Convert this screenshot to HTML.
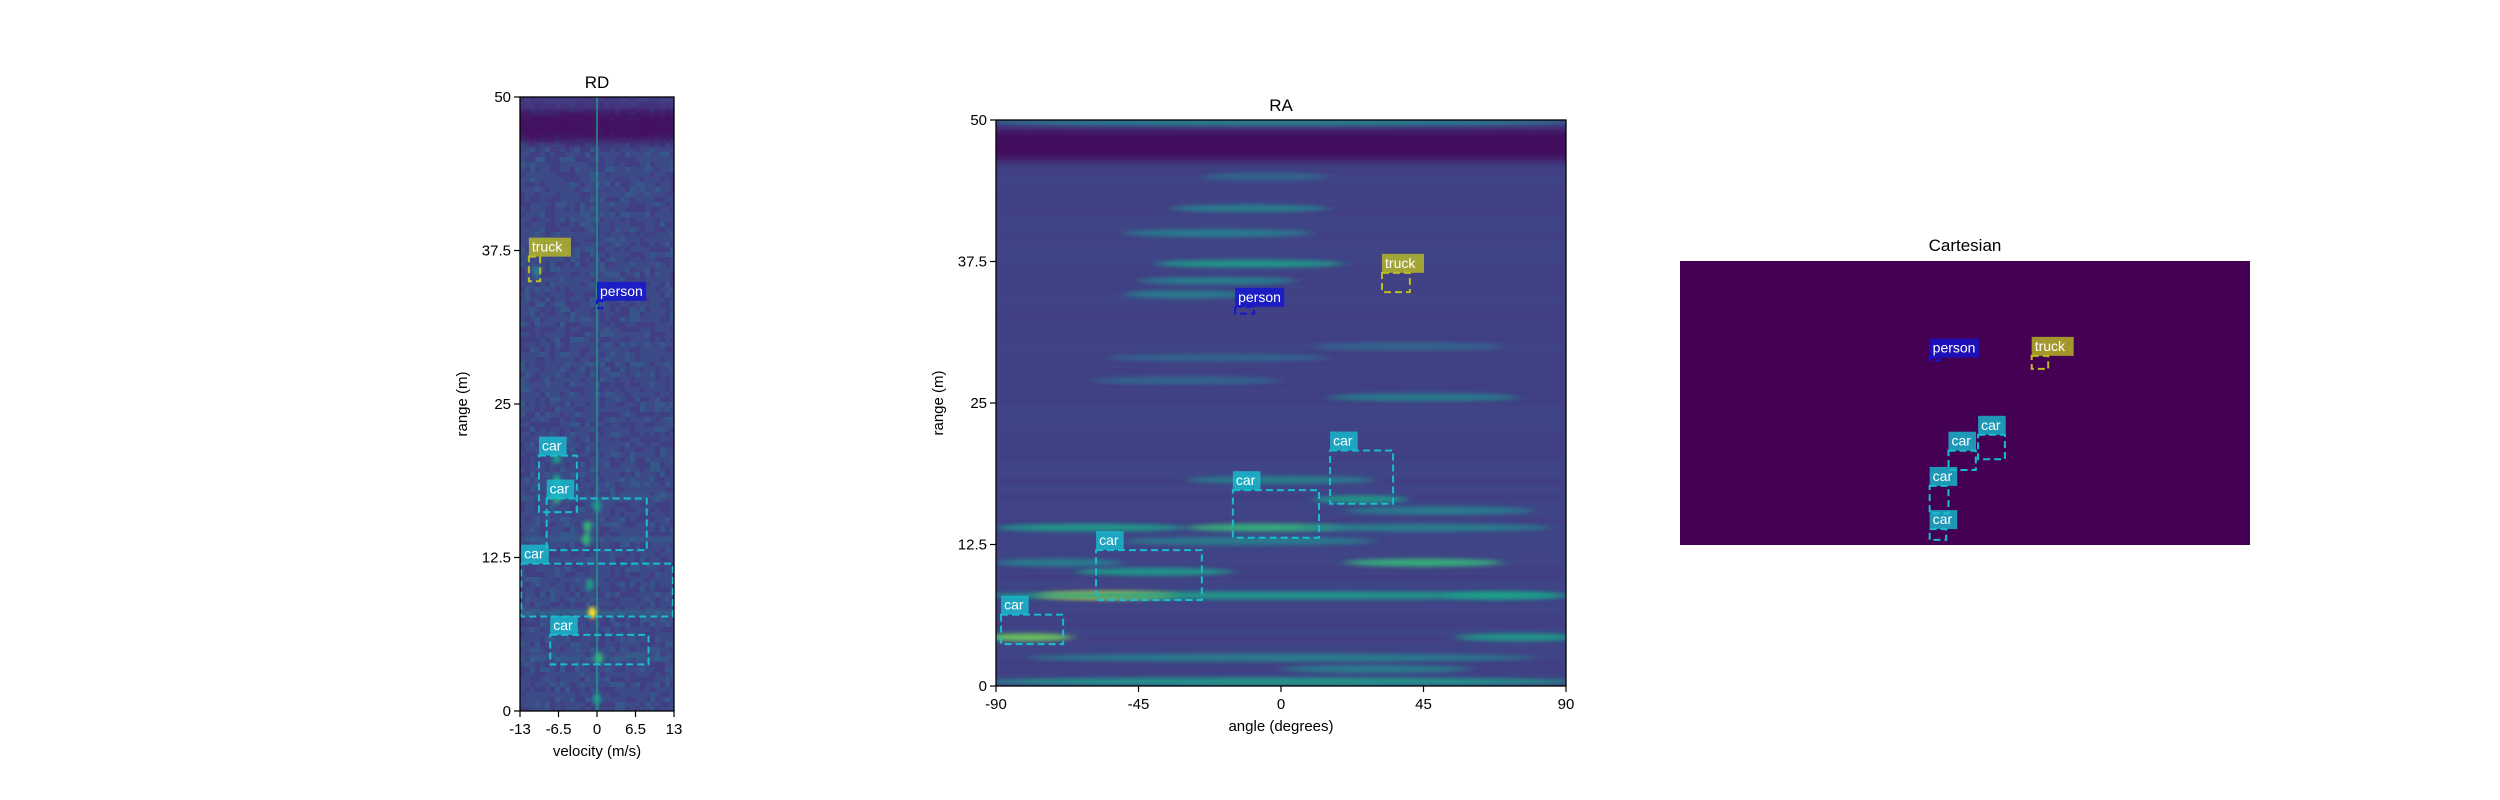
<!DOCTYPE html>
<html><head><meta charset="utf-8">
<style>
html,body{margin:0;padding:0;background:#fff;}
svg{display:block;font-family:"Liberation Sans","DejaVu Sans",sans-serif;}
</style></head>
<body>
<svg id="fig" width="2500" height="800" viewBox="0 0 2500 800" xmlns="http://www.w3.org/2000/svg">
<defs>
<filter id="blurS" x="-50%" y="-200%" width="200%" height="500%"><feGaussianBlur stdDeviation="6 2"/></filter>
<filter id="blurR" x="-50%" y="-50%" width="200%" height="200%"><feGaussianBlur stdDeviation="2"/></filter>
<filter id="blurB" x="-20%" y="-50%" width="140%" height="200%"><feGaussianBlur stdDeviation="0 5"/></filter>
<clipPath id="clipRD"><rect x="520" y="97" width="154" height="614"/></clipPath>
<clipPath id="clipRA"><rect x="996" y="120" width="570" height="566"/></clipPath>
</defs>
<g id="root"></g>
</svg>
<script>
// ---------- data ----------
const rdVelTicks = [-13, -6.5, 0, 6.5, 13];
const rdRangeTicks = [0, 12.5, 25, 37.5, 50];
const raAngleTicks = [-90, -45, 0, 45, 90];
const raRangeTicks = [0, 12.5, 25, 37.5, 50];
const rdTickLabels = ["-13", "-6.5", "0", "6.5", "13"];
const raTickLabels = ["-90", "-45", "0", "45", "90"];
const rangeTickLabels = ["0", "12.5", "25", "37.5", "50"];

// RD boxes: [class, vMin, vMax, rMin, rMax]
const rdBoxes = [
  ["truck", -11.5, -9.6, 35.0, 37.0],
  ["person", 0.0, 0.9, 32.8, 33.4],
  ["car", -9.8, -3.4, 16.2, 20.8],
  ["car", -8.5, 8.4, 13.1, 17.3],
  ["car", -12.8, 12.8, 7.7, 12.0],
  ["car", -7.9, 8.7, 3.8, 6.2]
];
// RA boxes: [class, aMin, aMax, rMin, rMax]
const raBoxes = [
  ["truck", 31.9, 40.7, 34.8, 36.5],
  ["person", -14.5, -8.5, 32.9, 33.5],
  ["car", 15.5, 35.4, 16.1, 20.8],
  ["car", -15.2, 12.0, 13.1, 17.3],
  ["car", -58.4, -25.0, 7.6, 12.0],
  ["car", -88.4, -68.8, 3.7, 6.3]
];
// Cartesian boxes: [class, xMin, xMax, yMin, yMax] (m)
const cartBoxes = [
  ["truck", 11.7, 14.6, 31.0, 33.3],
  ["person", -6.2, -4.4, 32.5, 33.0],
  ["car", 2.3, 7.0, 15.1, 19.4],
  ["car", -2.9, 1.9, 13.2, 16.6],
  ["car", -6.2, -2.9, 5.6, 10.4],
  ["car", -6.2, -3.3, 0.9, 2.8]
];
// RA heat streaks: [angleCenter, range, halfWidthDeg, viridisLevel]
const raStreaks = [
  [0, 0.4, 95, 0.5], [0, 49.8, 95, 0.45],
  [-55, 8.0, 22, 0.95], [0, 8.0, 95, 0.5], [70, 8.0, 18, 0.6],
  [-80, 4.3, 14, 0.75], [75, 4.3, 20, 0.55], [0, 2.5, 80, 0.4], [30, 1.5, 30, 0.45],
  [-5, 14.0, 25, 0.7], [-60, 14.0, 30, 0.5], [45, 14.0, 40, 0.45], [-70, 10.9, 20, 0.45],
  [45, 10.9, 25, 0.65], [-40, 10.1, 25, 0.5], [-10, 12.8, 40, 0.4],
  [25, 16.5, 15, 0.55], [50, 15.5, 30, 0.45], [0, 18.2, 30, 0.45],
  [-20, 35.8, 25, 0.45], [-10, 37.3, 30, 0.5], [-30, 34.6, 20, 0.4],
  [-10, 42.2, 25, 0.45], [-20, 40.0, 30, 0.45], [-5, 45.0, 20, 0.35],
  [45, 25.5, 30, 0.4], [-30, 27.0, 30, 0.3], [-20, 29.0, 35, 0.3], [40, 30.0, 30, 0.3]
];
// RD bright spots: [velocity, range, intensity]
const rdSpots = [
  [-0.8, 8.0, 0.95], [0.3, 4.3, 0.7], [-1.2, 10.3, 0.6], [-1.8, 14.0, 0.7],
  [-1.6, 15.0, 0.65], [-6.8, 17.4, 0.7], [-6.8, 18.8, 0.6], [-6.8, 20.6, 0.5],
  [-10.2, 35.8, 0.45], [0, 1.0, 0.5], [0, 16.7, 0.5]
];

const colors = {car: [23,190,207], truck: [188,189,34], person: [20,20,210]};
const viridis = ["#440154","#482878","#3e4989","#31688e","#26828e","#1f9e89","#35b779","#6ece58","#b5de2b","#fde725","#fde725"];
function vir(t){ return viridis[Math.max(0, Math.min(10, Math.round(t*9)))]; }

const NS = "http://www.w3.org/2000/svg";
const root = document.getElementById("root");
function el(tag, attrs, parent){ const e = document.createElementNS(NS, tag); for (const k in attrs) e.setAttribute(k, attrs[k]); (parent||root).appendChild(e); return e; }
function txt(s, attrs, parent){ const e = el("text", attrs, parent); e.textContent = s; return e; }

// seeded rng for texture only
let seed = 7;
function rnd(){ seed = (seed * 16807) % 2147483647; return seed / 2147483647; }

// ---------- panels ----------
const RD = {x0:520, x1:674, y0:97, y1:711, vmin:-13, vmax:13, rmin:0, rmax:50};
const RA = {x0:996, x1:1566, y0:120, y1:686, vmin:-90, vmax:90, rmin:0, rmax:50};
const CA = {x0:1680, x1:2250, y0:261, y1:545, vmin:-50, vmax:50, rmin:0, rmax:50};
function sx(p, v){ return p.x0 + (v - p.vmin) / (p.vmax - p.vmin) * (p.x1 - p.x0); }
function sy(p, r){ return p.y1 - (r - p.rmin) / (p.rmax - p.rmin) * (p.y1 - p.y0); }

function drawAxes(p, name, title, xt, xl, yt, yl, xlabel, ylabel, ylabX){
  const g = el("g", {});
  
  
  el("rect", {x:p.x0, y:p.y0, width:p.x1-p.x0, height:p.y1-p.y0, fill:"none", stroke:"#000", "stroke-width":1.3}, g);
  const t = txt(title, {x:(p.x0+p.x1)/2, y:p.y0-9, "text-anchor":"middle", "font-size":17, fill:"#000"}, g);
  
  
  xt.forEach((v, i) => {
    const x = sx(p, v);
    el("line", {x1:x, x2:x, y1:p.y1, y2:p.y1+6, stroke:"#000", "stroke-width":1.2}, g);
    const l = txt(xl[i], {x:x, y:p.y1+23, "text-anchor":"middle", "font-size":15, fill:"#000"}, g);
    
    
  });
  yt.forEach((v, i) => {
    const y = sy(p, v);
    el("line", {x1:p.x0-6, x2:p.x0, y1:y, y2:y, stroke:"#000", "stroke-width":1.2}, g);
    const l = txt(yl[i], {x:p.x0-9, y:y+5, "text-anchor":"end", "font-size":15, fill:"#000"}, g);
    
    
  });
  const xa = txt(xlabel, {x:(p.x0+p.x1)/2, y:p.y1+45, "text-anchor":"middle", "font-size":15, fill:"#000"}, g);
  
  
  const ya = txt(ylabel, {x:ylabX, y:(p.y0+p.y1)/2, "text-anchor":"middle", "font-size":15, fill:"#000", transform:`rotate(-90 ${ylabX} ${(p.y0+p.y1)/2})`}, g);
  
  
}

function drawBoxes(p, boxes, name, g){
  boxes.forEach(b => {
    const c = colors[b[0]];
    const x0 = sx(p, b[1]), x1 = sx(p, b[2]), y0 = sy(p, b[4]), y1 = sy(p, b[3]);
    const r = el("rect", {x:x0, y:y0, width:Math.max(2, x1-x0), height:Math.max(2, y1-y0), fill:"none",
      stroke:`rgb(${c})`, "stroke-width":2, "stroke-dasharray":"7 4"}, g);
    
    
    const w = b[0].length * 7.2 + 6;
    const lb = el("rect", {x:x0, y:y0-19, width:w, height:19, fill:`rgba(${c},0.8)`}, g);
    
    
    const t = txt(b[0], {x:x0+3, y:y0-5, "font-size":14, fill:"#fff"}, g);
    
    
  });
}

// ---------- RD heatmap ----------
(function(){
  const p = RD;
  const g = el("g", {"clip-path":"url(#clipRD)"});
  
  
  el("rect", {x:p.x0, y:p.y0, width:p.x1-p.x0, height:p.y1-p.y0, fill:"#3d4a88"}, g);
  for (let y = p.y0; y < p.y1; y += 5) for (let x = p.x0; x < p.x1; x += 5) {
    const v = rnd();
    if (v < 0.3) el("rect", {x:x, y:y, width:5, height:5, fill:"#46337f", opacity:0.45}, g);
    else if (v > 0.85) el("rect", {x:x, y:y, width:5, height:5, fill:"#31688e", opacity:0.45}, g);
  }
  // dark band
  el("rect", {x:p.x0, y:sy(p,49.0), width:p.x1-p.x0, height:sy(p,46.3)-sy(p,49.0), fill:"#440154", opacity:0.75, filter:"url(#blurB)"}, g);
  el("rect", {x:p.x0, y:sy(p,50), width:p.x1-p.x0, height:sy(p,49.0)-sy(p,50), fill:"#472d7b", opacity:0.5}, g);
  // zero-doppler line
  el("line", {x1:sx(p,0), x2:sx(p,0), y1:p.y0, y2:p.y1, stroke:"#1f9e89", "stroke-width":1.6, opacity:0.85}, g);
  [[8.0,0.6],[4.3,0.35],[14.0,0.35],[17.4,0.3]].forEach(s => {
    el("rect", {x:p.x0, y:sy(p,s[0])-2, width:p.x1-p.x0, height:4, fill:"#26828e", opacity:s[1], filter:"url(#blurR)"}, g);
  });
  rdSpots.forEach(s => {
    el("ellipse", {cx:sx(p,s[0]), cy:sy(p,s[1]), rx:4, ry:6, fill:vir(s[2]), filter:"url(#blurR)"}, g);
  });
  drawBoxes(p, rdBoxes, 'rd', g);
})();
drawAxes(RD, 'rd', 'RD', rdVelTicks, rdTickLabels, rdRangeTicks, rangeTickLabels, 'velocity (m/s)', 'range (m)', 467);

// ---------- RA heatmap ----------
(function(){
  const p = RA;
  const g = el("g", {"clip-path":"url(#clipRA)"});
  
  
  el("rect", {x:p.x0, y:p.y0, width:p.x1-p.x0, height:p.y1-p.y0, fill:"#404385"}, g);
  for (let r = 0; r < 46; r += 0.7) {
    const v = rnd();
    el("rect", {x:p.x0, y:sy(p,r), width:p.x1-p.x0, height:3, fill: v > 0.5 ? "#3e4a89" : "#453781", opacity:0.6, filter:"url(#blurR)"}, g);
  }
  el("rect", {x:p.x0, y:sy(p,49.2), width:p.x1-p.x0, height:sy(p,46.4)-sy(p,49.2), fill:"#440154", opacity:0.8, filter:"url(#blurB)"}, g);
  el("rect", {x:p.x0, y:sy(p,49.9), width:p.x1-p.x0, height:sy(p,49.2)-sy(p,49.9), fill:"#472d7b", opacity:0.6}, g);
  raStreaks.forEach(s => {
    const cx = sx(p, s[0]), w = s[2] / 180 * (p.x1 - p.x0);
    el("ellipse", {cx:cx, cy:sy(p,s[1]), rx:w, ry:4, fill:vir(s[3]), opacity:0.9, filter:"url(#blurS)"}, g);
  });
  drawBoxes(p, raBoxes, 'ra', g);
})();
drawAxes(RA, 'ra', 'RA', raAngleTicks, raTickLabels, raRangeTicks, rangeTickLabels, 'angle (degrees)', 'range (m)', 943);

// ---------- Cartesian ----------
(function(){
  const p = CA;
  const g = el("g", {});
  
  
  el("rect", {x:p.x0, y:p.y0, width:p.x1-p.x0, height:p.y1-p.y0, fill:"#440154"}, g);
  const t = txt('Cartesian', {x:(p.x0+p.x1)/2, y:p.y0-10, "text-anchor":"middle", "font-size":17, fill:"#000"}, g);
  
  
  drawBoxes(p, cartBoxes, 'cartesian', g);
})();
</script>
</body></html>
